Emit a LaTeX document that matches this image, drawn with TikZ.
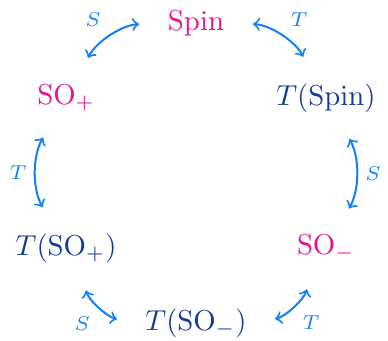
\documentclass[tikz,border=0pt]{standalone}
\definecolor{spinpink}{RGB}{230,20,140}
\definecolor{tdark}{RGB}{20,60,150}
\definecolor{arrblue}{RGB}{20,128,245}
\tikzset{
  plain/.style={text=spinpink},
  twisted/.style={text=tdark},
  arr/.style={<->,line width=0.7pt,draw=arrblue,shorten <=6.5pt,shorten >=6.5pt},
  lab/.style={text=arrblue,font=\scriptsize}
}
\begin{document}
\begin{tikzpicture}
  \useasboundingbox (-2.391,-2.037) rectangle (2.342,2.111);
  \node[plain] (spin) at (90:1.83) {Spin};
  \node[plain] (sop) at (150:1.83) {$\mathrm{SO}_+$};
  \node[twisted] (tsop) at (210:1.83) {$T(\mathrm{SO}_+)$};
  \node[twisted] (tsom) at (270:1.83) {$T(\mathrm{SO}_-)$};
  \node[plain] (som) at (330:1.83) {$\mathrm{SO}_-$};
  \node[twisted] (tspin) at (30:1.83) {$T(\mathrm{Spin})$};
  \draw[arr] (spin) to[bend right=30] node[lab,above left] {$S$} (sop);
  \draw[arr] (sop) to[bend right=30] node[lab,left] {$T$} (tsop);
  \draw[arr] (tsop) to[bend right=30] node[lab,below left] {$S$} (tsom);
  \draw[arr] (tsom) to[bend right=30] node[lab,below right] {$T$} (som);
  \draw[arr] (som) to[bend right=30] node[lab,right] {$S$} (tspin);
  \draw[arr] (tspin) to[bend right=30] node[lab,above right] {$T$} (spin);
\end{tikzpicture}
\end{document}
